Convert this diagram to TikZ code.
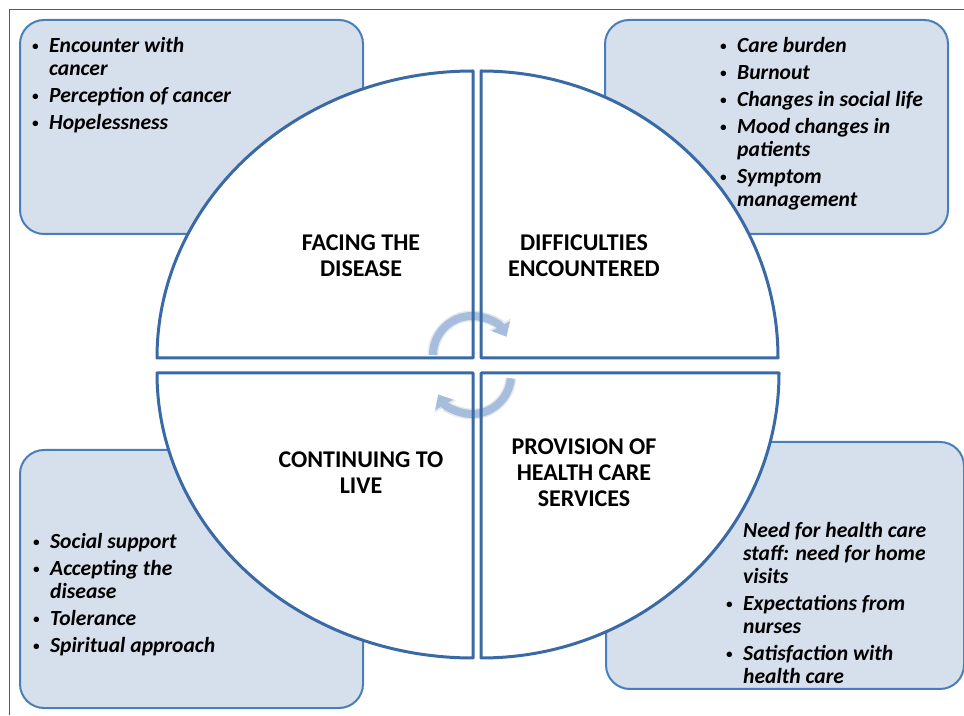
\documentclass[tikz,border=0pt]{standalone}
\usepackage{fontspec}
\setmainfont{Carlito}
\usetikzlibrary{arrows.meta}

\definecolor{boxfill}{RGB}{214,223,236}
\definecolor{boxline}{RGB}{74,126,187}
\definecolor{quadline}{RGB}{58,106,165}
\definecolor{cyc}{RGB}{166,189,222}
\newcommand{\bul}{\makebox[17pt][l]{\raisebox{1.5pt}{\fontsize{13}{13}\selectfont\textbullet}}}
\newcommand{\nob}{\hspace*{17pt}}
% the four quarters of the circle
\newcommand{\quadFD}{(473,357) -- (157,357) arc[start angle=180,end angle=90,x radius=316,y radius=287] -- cycle}
\newcommand{\quadDE}{(481,357) -- (481,644) arc[start angle=90,end angle=0,x radius=297,y radius=287] -- cycle}
\newcommand{\quadCL}{(473,342) -- (473,57) arc[start angle=270,end angle=180,x radius=316,y radius=285] -- cycle}
\newcommand{\quadPH}{(481,342) -- (779,342) arc[start angle=0,end angle=-90,x radius=298,y radius=285] -- cycle}

\begin{document}
\begin{tikzpicture}[x=1pt,y=1pt,
  themebox/.style={draw=boxline,line width=2pt,fill=boxfill,rounded corners=24pt,
    anchor=south west,inner sep=0pt},
  items/.style={anchor=north west,inner sep=0pt,align=left,
    font=\fontsize{21.6}{23}\selectfont\bfseries\itshape},
  quad/.style={draw=quadline,line width=3pt,line join=round},
  title/.style={align=center,font=\fontsize{24}{26}\selectfont\bfseries},
  cycle arrow/.style={draw=cyc,line width=8pt,-{Triangle[width=20pt,length=12pt]},
    preaction={draw=gray!18,line width=11pt,-{Triangle[width=24pt,length=14pt]}}}]
  \useasboundingbox (0,0) rectangle (964,715);
  \draw[gray!70!black,line width=1pt] (9,0) -- (9,705) -- (964,705);

  % theme boxes (behind the circle)
  \node[themebox,minimum width=343pt,minimum height=214pt] (boxFD) at (19,480) {};
  \node[themebox,minimum width=343pt,minimum height=214pt] (boxDE) at (604,480) {};
  \node[themebox,minimum width=343pt,minimum height=258pt] (boxCL) at (19,6) {};
  \node[themebox,minimum width=358pt,minimum height=247pt] (boxPH) at (605,25) {};

  \node[items] (listFD) at (32,678) {\bul Encounter with\\ \nob cancer\\[4pt]
    \bul Perception of cancer\\[4pt] \bul Hopelessness};
  \node[items] (listDE) at (720,678) {\bul Care burden\\[4pt] \bul Burnout\\[4pt]
    \bul Changes in social life\\[4pt] \bul Mood changes in\\ \nob patients\\[4pt]
    \bul Symptom\\ \nob management};
  \node[items] (listCL) at (33,182) {\bul Social support\\[4pt] \bul Accepting the\\
    \nob disease\\[4pt] \bul Tolerance\\[4pt] \bul Spiritual approach};
  \node[items] (listPH) at (726,193) {\nob Need for health care\\ \nob staff: need for home\\
    \nob visits\\[4pt] \bul Expectations from\\ \nob nurses\\[4pt]
    \bul Satisfaction with\\ \nob health care};

  \fill[white] \quadFD \quadDE \quadCL \quadPH;

  % cycle arrows
  \draw[cycle arrow] (472,360) ++(180:39) arc[start angle=180,end angle=28,radius=39];
  \draw[cycle arrow] (472,340) ++(-5:39) arc[start angle=-5,end angle=-150,radius=39];

  \draw[quad] \quadFD \quadDE \quadCL \quadPH;

  \node[title] (facing) at (361,459) {FACING THE\\DISEASE};
  \node[title] (difficult) at (584,459) {DIFFICULTIES\\ENCOUNTERED};
  \node[title] (continuing) at (361,242) {CONTINUING TO\\LIVE};
  \node[title] (provision) at (584,242) {PROVISION OF\\HEALTH CARE\\SERVICES};
\end{tikzpicture}
\end{document}
